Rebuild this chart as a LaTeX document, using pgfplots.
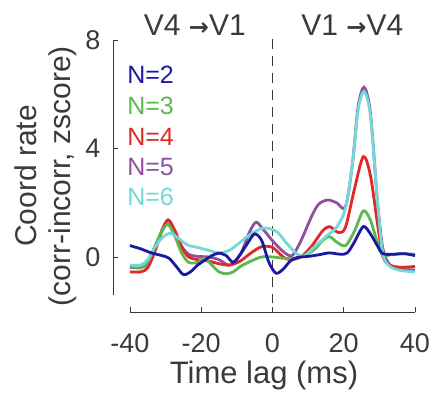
\documentclass[border=0pt]{standalone}
\usepackage{pgfplots}
\pgfplotsset{compat=1.18}
\usepackage{fontspec}
\setmainfont{Liberation Sans}
\newfontfamily\arrowfont{DejaVu Sans}
\definecolor{textcol}{HTML}{3A3A3A}
\definecolor{axiscol}{HTML}{3A3A3A}
\definecolor{cN2}{HTML}{1A1AA0}
\definecolor{cN3}{HTML}{5DB84F}
\definecolor{cN4}{HTML}{E02828}
\definecolor{cN5}{HTML}{9050A0}
\definecolor{cN6}{HTML}{72D8D8}
\begin{document}
\begin{tikzpicture}
\begin{axis}[
  scale only axis, width=302pt, height=272pt,
  xmin=-44.75, xmax=40, ymin=-2.03, ymax=8,
  axis x line*=bottom, axis y line*=left,
  axis line style={draw=none,-},
  clip=false,
  xtick={-40,-20,0,20,40}, ytick={0,4,8},
  tick align=inside, major tick length=5pt,
  tick style={axiscol, line width=0.8pt},
  /pgf/number format/assume math mode=true,
  ticklabel style={font=\fontsize{27}{32}\selectfont, text=textcol},
  xticklabel shift={18pt},
  yticklabel shift={9pt},
  xlabel={Time lag (ms)},
  xlabel style={font=\fontsize{31}{36}\selectfont, text=textcol, yshift=-2pt},
  ylabel={Coord rate\\(corr-incorr, zscore)},
  ylabel style={font=\fontsize{30}{34}\selectfont, text=textcol, align=center, yshift=2pt},
  every axis plot/.append style={line width=2.8pt, smooth, tension=0.5},
]
\draw[axiscol, line width=0.9pt] (axis cs:-40,-2.03) -- (axis cs:40,-2.03);
\draw[axiscol, line width=0.9pt] (axis cs:-44.75,-1.4) -- (axis cs:-44.75,8);
\draw[axiscol, line width=1.2pt, dash pattern=on 10pt off 7pt] (axis cs:0,8.05) -- (axis cs:0,-1.7);

% N=5 (purple)
\addplot[cN5] coordinates {
(-40,-0.38) (-37,-0.4) (-35,-0.25) (-33,0.3) (-31,1.0) (-29.3,1.37) (-27.5,1.0) (-25.5,0.4) (-23.5,0.1) (-21,0.02) (-18,0.0) (-15,-0.1) (-12,-0.3) (-9,0.1) (-6.5,0.9) (-4.6,1.28) (-2.5,1.0) (0,0.6) (3,0.2) (5.5,0.05) (8,0.6) (11,1.5) (13,1.95) (15.5,2.1) (18,2.0) (20.5,1.85) (22.5,3.5) (24,5.5) (25.7,6.26) (27.5,5.3) (29.5,2.0) (31,0.3) (33,-0.3) (36,-0.45) (40,-0.48)};
% N=4 (red)
\addplot[cN4] coordinates {
(-40,-0.55) (-37,-0.55) (-35,-0.4) (-33,0.2) (-31,0.95) (-29.3,1.35) (-27.5,1.0) (-25.5,0.35) (-23.5,0.0) (-21,-0.1) (-18,-0.15) (-15,-0.25) (-12,-0.3) (-9,-0.15) (-6,0.15) (-3,0.38) (0,0.35) (3,0.0) (5,-0.1) (8,0.0) (11,0.4) (14,0.95) (16,1.12) (18.5,0.9) (20.5,1.1) (23,2.5) (25.5,3.7) (27.5,3.0) (29.5,1.2) (31,0.0) (33,-0.3) (36,-0.38) (40,-0.35)};
% N=3 (green)
\addplot[cN3] coordinates {
(-40,-0.35) (-37,-0.4) (-35,-0.2) (-33,0.4) (-31,0.95) (-29.3,1.2) (-27.5,0.8) (-25.5,0.15) (-23.5,-0.2) (-21,-0.2) (-19,-0.05) (-17,-0.3) (-15,-0.55) (-13,-0.62) (-11,-0.55) (-9,-0.35) (-6,-0.15) (-3,0) (0,0) (3,-0.05) (6,-0.05) (9,0.05) (12,0.3) (14,0.6) (16,0.75) (18,0.55) (20.5,0.42) (23,0.95) (25.5,1.7) (27.5,1.35) (29.5,0.5) (31,0.05) (33,0.08) (36,0.12) (40,0.1)};
% N=6 (cyan)
\addplot[cN6] coordinates {
(-40,-0.3) (-37,-0.3) (-35,-0.1) (-33,0.35) (-31,0.7) (-28.8,0.87) (-26.5,0.7) (-24,0.45) (-21,0.35) (-18,0.25) (-15,0.15) (-12,0.25) (-9,0.55) (-6,0.85) (-3,1.05) (-1,1.05) (1.5,0.9) (4,0.5) (7,0.1) (9,0.05) (12,0.4) (15,0.75) (18,1.1) (20.5,1.8) (22.5,3.5) (24,5.4) (25.7,6.1) (27.5,5.2) (29.5,2.0) (31,0.1) (33,-0.35) (36,-0.5) (40,-0.55)};
% N=2 (blue)
\addplot[cN2] coordinates {
(-40,0.42) (-37,0.3) (-34,0.15) (-31,0.05) (-29,-0.05) (-27,-0.35) (-25,-0.65) (-23,-0.55) (-21,-0.3) (-19,-0.12) (-17,0.05) (-15,0.14) (-13,0.05) (-11,-0.2) (-9,0.1) (-7,0.5) (-5,0.85) (-3,0.6) (-1,-0.2) (1,-0.6) (3,-0.45) (5,-0.15) (7,-0.02) (10,0.02) (13,0.08) (16,0.15) (19,0.1) (21,0.15) (23,0.55) (25.5,1.12) (27.5,0.85) (29.5,0.4) (31,0.12) (34,0.1) (37,0.12) (40,0.05)};

\begin{scope}[every node/.style={anchor=west, inner sep=0pt, font=\fontsize{25}{30}\selectfont}]
\node[text=cN2] at (axis cs:-40.8,6.72) {N=2};
\node[text=cN3] at (axis cs:-40.8,5.57) {N=3};
\node[text=cN4] at (axis cs:-40.8,4.43) {N=4};
\node[text=cN5] at (axis cs:-40.8,3.32) {N=5};
\node[text=cN6] at (axis cs:-40.8,2.21) {N=6};
\end{scope}
\node[text=textcol, font=\fontsize{30}{34}\selectfont] at (axis cs:-21.8,8.56) {V4 {\arrowfont\bfseries\fontsize{24}{30}\selectfont →}V1};
\node[text=textcol, font=\fontsize{30}{34}\selectfont] at (axis cs:22.4,8.56) {V1 {\arrowfont\bfseries\fontsize{24}{30}\selectfont →}V4};
\end{axis}
\pgfresetboundingbox
\path (current axis.south west) ++(-113pt,-86pt) rectangle ++(435pt,398pt);
\end{tikzpicture}
\end{document}
